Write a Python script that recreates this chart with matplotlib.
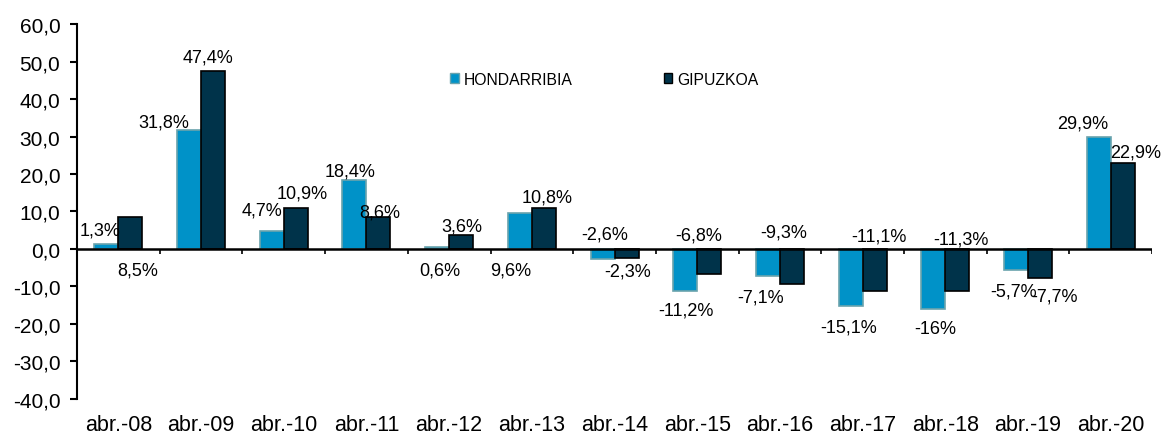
import numpy as np
import matplotlib
matplotlib.use("Agg")
import matplotlib.pyplot as plt
from matplotlib.patches import Patch

plt.rcParams['font.family'] = ['Liberation Sans', 'DejaVu Sans']

categories = ['abr.-08', 'abr.-09', 'abr.-10', 'abr.-11', 'abr.-12', 'abr.-13', 'abr.-14',
              'abr.-15', 'abr.-16', 'abr.-17', 'abr.-18', 'abr.-19', 'abr.-20']
hondarribia = [1.3, 31.8, 4.7, 18.4, 0.6, 9.6, -2.6, -11.2, -7.1, -15.1, -16.0, -5.7, 29.9]
gipuzkoa = [8.5, 47.4, 10.9, 8.6, 3.6, 10.8, -2.3, -6.8, -9.3, -11.1, -11.3, -7.7, 22.9]
hond_text = ['1,3%', '31,8%', '4,7%', '18,4%', '0,6%', '9,6%', '-2,6%', '-11,2%', '-7,1%',
             '-15,1%', '-16%', '-5,7%', '29,9%']
gip_text = ['8,5%', '47,4%', '10,9%', '8,6%', '3,6%', '10,8%', '-2,3%', '-6,8%', '-9,3%',
            '-11,1%', '-11,3%', '-7,7%', '22,9%']

# where the label text sits (y in data units, x shift in px), as in the source chart
hond_label_y = [5.1, 33.9, 10.4, 20.8, -5.6, -5.6, 4.0, -16.3, -12.8, -20.8, -21.3, -11.2, 33.6]
hond_label_dx = [-6, -25, -10, -4, 3, -9, 2, 1, -7, -2, 2, -2, -16]
gip_label_y = [-5.6, 51.2, 15.0, 9.9, 6.1, 13.9, -5.9, 3.7, 4.5, 3.5, 2.7, -12.5, 26.0]
gip_label_dx = [7, -5, 6, 1, 1, 3, 1, -11, -8, 4, 4, 15, 13]

c_hond = '#0092c8'
c_gip = '#00334a'

fig = plt.figure(figsize=(11.71, 4.35), dpi=100)
ax = fig.add_axes([0.0658, 0.0805, 0.918, 0.862])

x = np.arange(len(categories))
w = 0.29
ax.bar(x - w / 2, hondarribia, w, color=c_hond, edgecolor='#6aa3ad', linewidth=1.2, zorder=2)
ax.bar(x + w / 2, gipuzkoa, w, color=c_gip, edgecolor='black', linewidth=1.2, zorder=2)

px = 1 / 82.7  # one pixel in category units
for i in range(len(categories)):
    ax.text(x[i] - w / 2 + hond_label_dx[i] * px, hond_label_y[i], hond_text[i],
            ha='center', va='center', fontsize=13)
    ax.text(x[i] + w / 2 + gip_label_dx[i] * px, gip_label_y[i], gip_text[i],
            ha='center', va='center', fontsize=13)

ax.set_xlim(-0.5, len(categories) - 0.5)
ax.set_ylim(-40, 60)
ax.set_yticks(np.arange(-40, 61, 10))
ax.set_yticklabels([f'{v:.1f}'.replace('.', ',') for v in np.arange(-40, 61, 10)], fontsize=15)
ax.set_xticks(x)
ax.set_xticklabels(categories, fontsize=15.5)
ax.tick_params(axis='x', length=0, pad=11)
ax.tick_params(axis='y', direction='out', length=5, width=1.5, pad=7)

for s in ['top', 'right', 'bottom']:
    ax.spines[s].set_visible(False)
ax.spines['left'].set_linewidth(1.5)

ax.axhline(0, color='black', linewidth=1.8, zorder=3)
ax.vlines(np.arange(len(categories) + 1) - 0.5, -1.3, 0, color='black', linewidth=1.2, zorder=3)

handles = [Patch(facecolor=c_hond, edgecolor='#6aa3ad'), Patch(facecolor=c_gip, edgecolor='black')]
fig.legend(handles, ['HONDARRIBIA', 'GIPUZKOA'], loc='center', bbox_to_anchor=(0.516, 0.816),
           ncol=2, frameon=False, fontsize=11.3, handlelength=0.55, handleheight=0.55,
           handletextpad=0.3, columnspacing=5.8)

fig.savefig('out.png', dpi=100)
